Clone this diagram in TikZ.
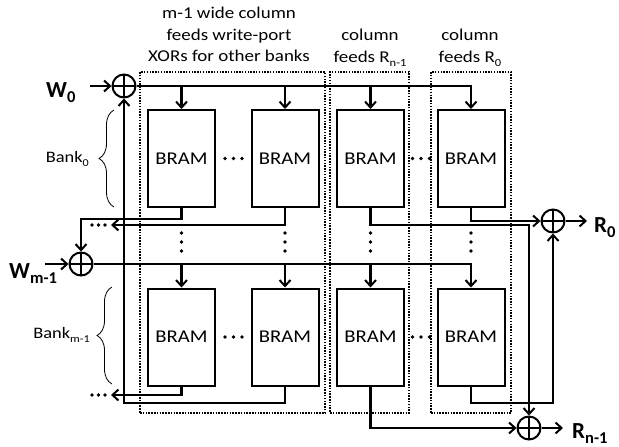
\documentclass[tikz,border=0pt]{standalone}
\usepackage{fontspec}
\usepackage{graphicx}
\setmainfont[FakeStretch=1.15]{Carlito}
\newfontfamily\lblfont{Carlito}
\usetikzlibrary{arrows.meta,decorations.pathreplacing,calc}
\newcommand\subs[1]{\raisebox{-0.28em}{\scalebox{0.66}{#1}}}
\newcommand\lsubs[1]{\raisebox{-0.26em}{\scalebox{0.72}{#1}}}
\begin{document}
\begin{tikzpicture}[x=1pt,y=-1pt,
  wire/.style={line width=2.4pt},
  arr/.style={-{Straight Barb[length=6pt,width=11pt,line width=2pt]}},
  bram/.style={draw,line width=2pt,minimum width=67pt,minimum height=97pt,inner sep=0pt,font=\fontsize{18}{20}\selectfont},
  xor/.style={circle,draw,line width=2pt,minimum size=23pt,inner sep=0pt,
    path picture={\draw[line width=2pt] (path picture bounding box.north) -- (path picture bounding box.south)
      (path picture bounding box.west) -- (path picture bounding box.east);}},
  colbox/.style={draw,line width=1.5pt,dash pattern=on 1.5pt off 1.3pt,inner sep=0pt},
  hdr/.style={align=center,inner sep=0pt,font=\fontsize{16.5}{21.4}\selectfont},
  lbl/.style={inner sep=0pt,font=\fontsize{23}{26}\lblfont\bfseries},
  banklbl/.style={inner sep=0pt,font=\fontsize{16}{20}\selectfont},
  bankbrace/.style={decorate,decoration={brace,amplitude=15pt,aspect=0.5},line width=0.8pt},
  dot/.style={circle,fill,inner sep=0pt,minimum size=3.6pt}
]
\useasboundingbox (0,0) rectangle (619,447);

% column boxes
\node[colbox,minimum width=185pt,minimum height=341pt] (c1) at (232.5,242.5) {};
\node[colbox,minimum width=79pt,minimum height=341pt] (c2) at (369.5,242.5) {};
\node[colbox,minimum width=80pt,minimum height=341pt] (c3) at (471,242.5) {};

% headers
\node[hdr,anchor=north] (h1) at (229,7) {m-1 wide column\\feeds write-port\\XORs for other banks};
\node[hdr,anchor=north] (h2) at (370,29) {column\\feeds R\subs{n-1}};
\node[hdr,anchor=north] (h3) at (470,29) {column\\feeds R\subs{0}};

% BRAMs bank 0
\node[bram] (b00) at (181.5,158.5) {BRAM};
\node[bram] (b01) at (285,158.5) {BRAM};
\node[bram] (b02) at (370.5,158.5) {BRAM};
\node[bram] (b03) at (471,158.5) {BRAM};
% BRAMs bank m-1
\node[bram] (b10) at (181.5,337) {BRAM};
\node[bram] (b11) at (285,337) {BRAM};
\node[bram] (b12) at (370.5,337) {BRAM};
\node[bram] (b13) at (471,337) {BRAM};

% XORs
\node[xor] (xw0) at (124,86) {};
\node[xor] (xwm) at (81,264) {};
\node[xor] (xr0) at (553,221) {};
\node[xor] (xrn) at (529,428) {};

% port labels
\node[lbl,anchor=base west] (w0) at (46,97) {W\lsubs{0}};
\node[lbl,anchor=base west] (wm) at (9,278) {W\lsubs{m-1}};
\node[lbl,anchor=base west] (r0) at (594,232) {R\lsubs{0}};
\node[lbl,anchor=base west] (rn) at (572,438) {R\lsubs{n-1}};
\coordinate (w0in) at (90,86);
\coordinate (wmin) at (45,264);
\coordinate (r0out) at (587,221);
\coordinate (rnout) at (563,428);
\coordinate (la0) at (111,225);
\coordinate (la1) at (111,395);

% bank labels
\draw[bankbrace] (114,207) -- (114,110);
\node[banklbl,anchor=east] (bk0) at (89,159) {Bank\subs{0}};
\draw[bankbrace] (112,384) -- (112,287);
\node[banklbl,anchor=east] (bk1) at (90,335) {Bank\subs{m-1}};

% write buses
\draw[wire,arr] (w0in) -- (xw0.west);
\draw[wire,arr] (xw0.east) -| (b03.north);
\foreach \b in {b00,b01,b02} \draw[wire,arr] (\b.north |- xw0) -- (\b.north);
\draw[wire,arr] (wmin) -- (xwm.west);
\draw[wire,arr] (xwm.east) -| (b13.north);
\foreach \b in {b10,b11,b12} \draw[wire,arr] (\b.north |- xwm) -- (\b.north);

% bank 0 outputs
\draw[wire,arr] (b00.south) -- (b00.south |- 0,219) -| (xwm.north);
\draw[wire,arr] (b01.south) |- (la0);
\draw[wire,arr] (b02.south) -- (b02.south |- 0,225) -| (xrn.north);
\draw[wire,arr] (b03.south) |- (xr0.west);
% bank m-1 outputs
\draw[wire,arr] (b10.south) |- (la1);
\draw[wire,arr] (b11.south) -- (b11.south |- 0,403) -| (xw0.south);
\draw[wire,arr] (b12.south) |- (xrn.west);
\draw[wire,arr] (b13.south) -- (b13.south |- 0,403) -| (xr0.south);
% read outputs
\draw[wire,arr] (xr0.east) -- (r0out);
\draw[wire,arr] (xrn.east) -- (rnout);

% ellipses
\foreach \x in {92,98.5,105} { \node[dot] at (\x,225) {}; \node[dot] at (\x,395) {}; }
\foreach \y in {158.5,337} {
  \foreach \x in {225,233.5,242} \node[dot] at (\x,\y) {};
  \foreach \x in {412.5,421,429.5} \node[dot] at (\x,\y) {};
}
\foreach \x in {181.5,285,370.5,471} \foreach \y in {233,242,251} \node[dot] at (\x,\y) {};
\end{tikzpicture}
\end{document}
